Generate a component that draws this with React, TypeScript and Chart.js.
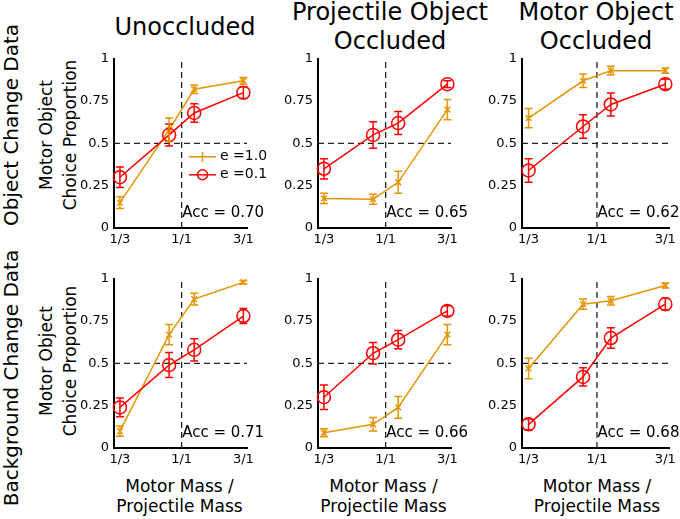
import { useEffect, useRef } from 'react';
import { Chart, registerables } from 'chart.js';

Chart.register(...registerables);

// mass ratio (motor / projectile) of each condition
const massRatios = [1 / 3, 0.8, 1.25, 3];
const xTickValues = [1 / 3, 1, 3];
const xTickLabels = ['1/3', '1/1', '3/1'];
const yTickValues = [0, 0.25, 0.5, 0.75, 1];
const seriesLabels = ['e =1.0', 'e =0.1'];
const columnTitles = [['Unoccluded'], ['Projectile Object', 'Occluded'], ['Motor Object', 'Occluded']];
const rowTitles = ['Object Change Data', 'Background Change Data'];
const yTitle = ['Motor Object', 'Choice Proportion'];
const xTitle = ['Motor Mass /', 'Projectile Mass'];

// object change data (top row): e = 1.0 and e = 0.1, with error half-widths
const objUnoccHigh = [0.15, 0.58, 0.82, 0.87];
const objUnoccHighErr = [0.035, 0.07, 0.025, 0.02];
const objUnoccLow = [0.3, 0.55, 0.68, 0.8];
const objUnoccLowErr = [0.06, 0.065, 0.055, 0.035];
const objProjHigh = [0.175, 0.17, 0.27, 0.7];
const objProjHighErr = [0.03, 0.03, 0.065, 0.06];
const objProjLow = [0.35, 0.55, 0.62, 0.85];
const objProjLowErr = [0.06, 0.078, 0.068, 0.02];
const objMotorHigh = [0.65, 0.87, 0.93, 0.93];
const objMotorHighErr = [0.057, 0.04, 0.026, 0.015];
const objMotorLow = [0.34, 0.6, 0.73, 0.85];
const objMotorLowErr = [0.07, 0.07, 0.068, 0.03];

// background change data (bottom row)
const bgUnoccHigh = [0.1, 0.67, 0.88, 0.98];
const bgUnoccHighErr = [0.03, 0.06, 0.035, 0.01];
const bgUnoccLow = [0.24, 0.49, 0.58, 0.78];
const bgUnoccLowErr = [0.055, 0.074, 0.066, 0.044];
const bgProjHigh = [0.09, 0.14, 0.24, 0.67];
const bgProjHighErr = [0.024, 0.04, 0.064, 0.06];
const bgProjLow = [0.3, 0.56, 0.64, 0.81];
const bgProjLowErr = [0.073, 0.063, 0.054, 0.03];
const bgMotorHigh = [0.47, 0.85, 0.87, 0.96];
const bgMotorHighErr = [0.06, 0.03, 0.025, 0.015];
const bgMotorLow = [0.14, 0.42, 0.65, 0.85];
const bgMotorLowErr = [0.032, 0.054, 0.06, 0.035];

const accuracies = ['0.70', '0.65', '0.62', '0.71', '0.66', '0.68'];

const ORANGE = 'rgb(230,148,5)';
const RED = 'rgb(255,0,0)';
const FONT = '"DejaVu Sans", sans-serif';

const X_MIN = 0.3;
const X_MAX = 3.2;

// layout of the plot areas
const colLefts = [114, 318, 522];
const colWidths = [133, 133, 152];
const colPadRight = [34, 30, 6];
const rowTops = [58, 278];
const PLOT_H = 170;
const YW = 44;
const PT = 12;
const XH = 24;

const errorBars = {
  id: 'errorBars',
  afterDatasetsDraw(chart: any) {
    const { ctx, scales } = chart;
    const x = scales.x;
    const y = scales.y;
    chart.data.datasets.forEach((ds: any) => {
      if (!ds.errors) return;
      ctx.save();
      ctx.strokeStyle = ds.borderColor;
      ctx.lineWidth = 1.5;
      ds.data.forEach((p: any, i: number) => {
        const px = x.getPixelForValue(p.x);
        const top = y.getPixelForValue(p.y + ds.errors[i]);
        const bot = y.getPixelForValue(p.y - ds.errors[i]);
        ctx.beginPath();
        ctx.moveTo(px, top);
        ctx.lineTo(px, bot);
        ctx.moveTo(px - 4, top);
        ctx.lineTo(px + 4, top);
        ctx.moveTo(px - 4, bot);
        ctx.lineTo(px + 4, bot);
        ctx.stroke();
      });
      ctx.restore();
    });
  },
};

const accText = {
  id: 'accText',
  afterDraw(chart: any, _args: any, opts: any) {
    const { ctx, scales, chartArea } = chart;
    ctx.save();
    ctx.fillStyle = '#000';
    ctx.font = `15px ${FONT}`;
    ctx.textBaseline = 'middle';
    ctx.textAlign = 'left';
    ctx.fillText(`Acc = ${opts.acc}`, scales.x.getPixelForValue(1) + 0.5, scales.y.getPixelForValue(0.09));

    if (opts.legend) {
      const items = [
        { label: seriesLabels[0], color: ORANGE, dy: 98, circle: false },
        { label: seriesLabels[1], color: RED, dy: 116, circle: true },
      ];
      ctx.font = `14px ${FONT}`;
      ctx.lineWidth = 1.5;
      items.forEach((it) => {
        const yy = chartArea.top + it.dy;
        const x0 = chartArea.left + 75;
        const x1 = chartArea.left + 102;
        const xm = (x0 + x1) / 2;
        ctx.strokeStyle = it.color;
        ctx.beginPath();
        ctx.moveTo(x0, yy);
        ctx.lineTo(x1, yy);
        ctx.stroke();
        ctx.beginPath();
        if (it.circle) {
          ctx.arc(xm, yy, 5, 0, Math.PI * 2);
        } else {
          ctx.moveTo(xm, yy - 5);
          ctx.lineTo(xm, yy + 5);
        }
        ctx.stroke();
        ctx.fillStyle = '#000';
        ctx.fillText(it.label, x1 + 4, yy);
      });
    }
    ctx.restore();
  },
};

type PanelProps = {
  col: number;
  row: number;
  high: number[];
  highErr: number[];
  low: number[];
  lowErr: number[];
  acc: string;
  legend?: boolean;
};

const toPoints = (vals: number[]) => massRatios.map((m, i) => ({ x: m, y: vals[i] }));

const Panel = ({ col, row, high, highErr, low, lowErr, acc, legend }: PanelProps) => {
  const canvasRef = useRef<HTMLCanvasElement>(null);
  const width = YW + colWidths[col] + colPadRight[col];
  const height = PT + PLOT_H + XH;

  useEffect(() => {
    if (!canvasRef.current) return;
    const chart = new Chart(canvasRef.current, {
      type: 'line',
      data: {
        datasets: [
          {
            label: seriesLabels[1],
            data: toPoints(low),
            errors: lowErr,
            borderColor: RED,
            backgroundColor: 'rgba(0,0,0,0)',
            borderWidth: 1.5,
            pointStyle: 'circle',
            pointRadius: 6.5,
            pointBorderWidth: 1.5,
            clip: false,
          } as any,
          {
            label: seriesLabels[0],
            data: toPoints(high),
            errors: highErr,
            borderColor: ORANGE,
            backgroundColor: 'rgba(0,0,0,0)',
            borderWidth: 1.5,
            pointStyle: 'crossRot',
            pointRadius: 4,
            pointBorderWidth: 1.5,
            clip: false,
          } as any,
          {
            label: 'chance',
            data: [
              { x: X_MIN, y: 0.5 },
              { x: X_MAX, y: 0.5 },
            ],
            borderColor: '#222',
            borderWidth: 1.3,
            borderDash: [6, 4],
            pointRadius: 0,
          },
          {
            label: 'equal mass',
            data: [
              { x: 1, y: 0 },
              { x: 1, y: 1 },
            ],
            borderColor: '#222',
            borderWidth: 1.3,
            borderDash: [6, 4],
            pointRadius: 0,
          },
        ],
      },
      options: {
        animation: false,
        responsive: false,
        devicePixelRatio: window.devicePixelRatio || 1,
        layout: { padding: { top: PT, right: colPadRight[col], left: 0, bottom: 0 } },
        plugins: {
          legend: { display: false },
          tooltip: { enabled: false },
          accText: { acc, legend: !!legend },
        } as any,
        scales: {
          x: {
            type: 'logarithmic',
            min: X_MIN,
            max: X_MAX,
            grid: { display: false, drawTicks: false },
            border: { display: true, color: '#000', width: 2 },
            afterBuildTicks: (s: any) => {
              s.ticks = xTickValues.map((v) => ({ value: v }));
            },
            afterFit: (s: any) => {
              s.height = XH;
            },
            ticks: {
              autoSkip: false,
              maxRotation: 0,
              minRotation: 0,
              padding: 4,
              color: '#000',
              font: { family: FONT, size: 13 },
              callback: (v: any) => {
                const i = xTickValues.findIndex((t) => Math.abs(t - Number(v)) < 1e-6);
                return i >= 0 ? xTickLabels[i] : '';
              },
            },
          },
          y: {
            type: 'linear',
            min: 0,
            max: 1,
            grid: { display: false, drawTicks: false },
            border: { display: true, color: '#000', width: 2 },
            afterBuildTicks: (s: any) => {
              s.ticks = yTickValues.map((v) => ({ value: v }));
            },
            afterFit: (s: any) => {
              s.width = YW;
            },
            ticks: {
              padding: 5,
              color: '#000',
              font: { family: FONT, size: 13 },
              callback: (v: any) => String(Number(v)),
            },
          },
        },
      },
      plugins: [errorBars, accText],
    });
    return () => chart.destroy();
  }, [col, row, high, highErr, low, lowErr, acc, legend]);

  return (
    <canvas
      ref={canvasRef}
      width={width}
      height={height}
      style={{
        position: 'absolute',
        left: colLefts[col] - YW,
        top: rowTops[row] - PT,
        width,
        height,
      }}
    />
  );
};

const textBase = {
  position: 'absolute' as const,
  fontFamily: FONT,
  color: '#000',
  whiteSpace: 'nowrap' as const,
  textAlign: 'center' as const,
};

const App = () => {
  const titleCenters = [185, 390, 596];
  const rowLabelCenters = [125, 378];
  const yTitleCenters = [135, 361];
  return (
    <div style={{ position: 'absolute', left: 0, top: 0, width: 680, height: 519, background: '#fff', overflow: 'hidden' }}>
      {columnTitles.map((lines, i) => (
        <div
          key={`t${i}`}
          style={{ ...textBase, left: titleCenters[i], top: 26.5, fontSize: 24, lineHeight: '29px', transform: 'translate(-50%, -50%)' }}
        >
          {lines.map((l) => (
            <div key={l}>{l}</div>
          ))}
        </div>
      ))}
      {rowTitles.map((t, i) => (
        <div
          key={`r${i}`}
          style={{ ...textBase, left: 12, top: rowLabelCenters[i], fontSize: 20, lineHeight: 1.164, transform: 'translate(-50%, -50%) rotate(-90deg)' }}
        >
          {t}
        </div>
      ))}
      {yTitleCenters.map((c, i) => (
        <div
          key={`y${i}`}
          style={{ ...textBase, left: 58, top: c, fontSize: 17, lineHeight: '24px', transform: 'translate(-50%, -50%) rotate(-90deg)' }}
        >
          {yTitle.map((l) => (
            <div key={l}>{l}</div>
          ))}
        </div>
      ))}
      {colLefts.map((l, i) => (
        <div
          key={`x${i}`}
          style={{ ...textBase, left: l + colWidths[i] / 2 - 1, top: 496, fontSize: 17, lineHeight: '20px', transform: 'translate(-50%, -50%)' }}
        >
          {xTitle.map((t) => (
            <div key={t}>{t}</div>
          ))}
        </div>
      ))}

      <Panel col={0} row={0} high={objUnoccHigh} highErr={objUnoccHighErr} low={objUnoccLow} lowErr={objUnoccLowErr} acc={accuracies[0]} legend />
      <Panel col={1} row={0} high={objProjHigh} highErr={objProjHighErr} low={objProjLow} lowErr={objProjLowErr} acc={accuracies[1]} />
      <Panel col={2} row={0} high={objMotorHigh} highErr={objMotorHighErr} low={objMotorLow} lowErr={objMotorLowErr} acc={accuracies[2]} />
      <Panel col={0} row={1} high={bgUnoccHigh} highErr={bgUnoccHighErr} low={bgUnoccLow} lowErr={bgUnoccLowErr} acc={accuracies[3]} />
      <Panel col={1} row={1} high={bgProjHigh} highErr={bgProjHighErr} low={bgProjLow} lowErr={bgProjLowErr} acc={accuracies[4]} />
      <Panel col={2} row={1} high={bgMotorHigh} highErr={bgMotorHighErr} low={bgMotorLow} lowErr={bgMotorLowErr} acc={accuracies[5]} />
    </div>
  );
};

export default App;
